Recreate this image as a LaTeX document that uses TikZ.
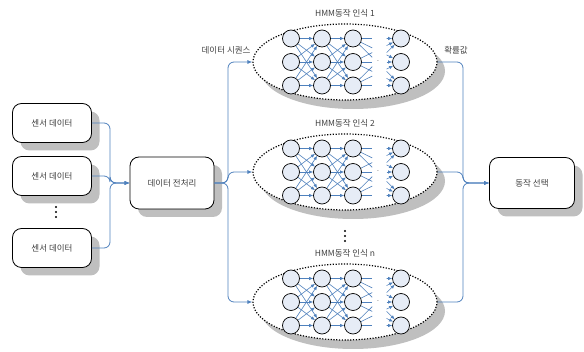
\documentclass[tikz,border=0pt]{standalone}
\usepackage{fontspec}
\setmainfont{Noto Sans CJK KR}
\usetikzlibrary{shapes.geometric,shadows,arrows.meta,calc}
\definecolor{linkblue}{RGB}{79,129,189}
\definecolor{cellfill}{RGB}{230,236,246}
\definecolor{txtgray}{RGB}{64,64,64}
\tikzset{
  blk/.style={draw, rounded corners=9pt, fill=white, line width=.8pt,
    minimum width=79pt, minimum height=39pt, text=txtgray,
    font=\fontsize{8.5}{10}\selectfont,
    drop shadow={shadow xshift=8pt, shadow yshift=-8pt, opacity=1, fill=black!25}},
  hmm/.style={ellipse, draw, fill=white, line width=1.2pt,
    dash pattern=on 1.2pt off 1.6pt, minimum width=184pt, minimum height=76pt,
    drop shadow={shadow xshift=8pt, shadow yshift=-9pt, opacity=1, fill=black!25}},
  cell/.style={circle, draw, fill=cellfill, line width=.7pt, minimum size=17pt, inner sep=0pt},
  link/.style={draw=linkblue, line width=.8pt, rounded corners=6pt, -{Latex[length=5pt,width=4pt]}},
  wire/.style={draw=linkblue, line width=.6pt},
  lbl/.style={text=txtgray, font=\fontsize{8.5}{10}\selectfont},
}
\begin{document}
\begin{tikzpicture}[x=1pt, y=-1pt]
        \useasboundingbox (0,0) rectangle (584,352);
        % sensor inputs
        \node[blk] (s1) at (52,123) {센서 데이터};
        \node[blk] (s2) at (52,176) {센서 데이터};
        \node[blk] (s3) at (52,248) {센서 데이터};
        \foreach \d in {-5,0,5} \fill (56,212+\d) circle (1.1pt);
        \node[blk, minimum width=84pt, minimum height=52pt] (pre) at (172,183) {데이터 전처리};
        \node[blk, minimum width=85pt, minimum height=51pt] (sel) at (532,183) {동작 선택};
        \coordinate (busl) at (110,183);
        \coordinate (busm) at (228,183);
        \coordinate (busr) at (463,183);
        % HMM blocks
        \foreach \e/\cy in {1/62, 2/172, n/302}{
          \node[hmm] (e\e) at (345,\cy) {};
          \node[lbl] (t\e) at (345,\cy-49) {HMM동작 인식 \e};
          \foreach \c/\cx in {1/291, 2/322, 3/353, 4/401}
            \foreach \r/\dy in {1/-23.5, 2/0, 3/23.5}
              \node[cell] (n\e-\c-\r) at (\cx,\cy+\dy) {};
          \foreach \i in {1,2,3}
            \foreach \j in {1,2,3}{
              \draw[wire, -{Latex[length=4pt,width=3.5pt]}] (n\e-1-\i) -- (n\e-2-\j);
              \draw[wire, -{Latex[length=4pt,width=3.5pt]}] (n\e-2-\i) -- (n\e-3-\j);
              \draw[wire] (n\e-3-\i) -- ($(n\e-3-\i)!.4!(n\e-4-\j)$);
              \draw[wire, -{Latex[length=4pt,width=3.5pt]}] ($(n\e-3-\i)!.7!(n\e-4-\j)$) -- (n\e-4-\j);
            }
          \node[text=txtgray, font=\tiny] (gap\e) at (378,\cy) {-};
          \draw[link] (pre.east) -- (busm) |- (e\e.west);
          \draw[link] (e\e.east) -| (busr) -- (sel.west);
        }
        \foreach \d in {-5,0,5} \fill (345,236+\d) circle (1.1pt);
        \draw[link] (s1.east) -| (busl) -- (pre.west);
        \draw[link] (s2.east) -| (busl) -- (pre.west);
        \draw[link] (s3.east) -| (busl) -- (pre.west);
        \node[lbl, anchor=east] (seq) at (254,50) {데이터 시퀀스};
        \node[lbl] (prob) at (456,50) {확률값};
\end{tikzpicture}
\end{document}
